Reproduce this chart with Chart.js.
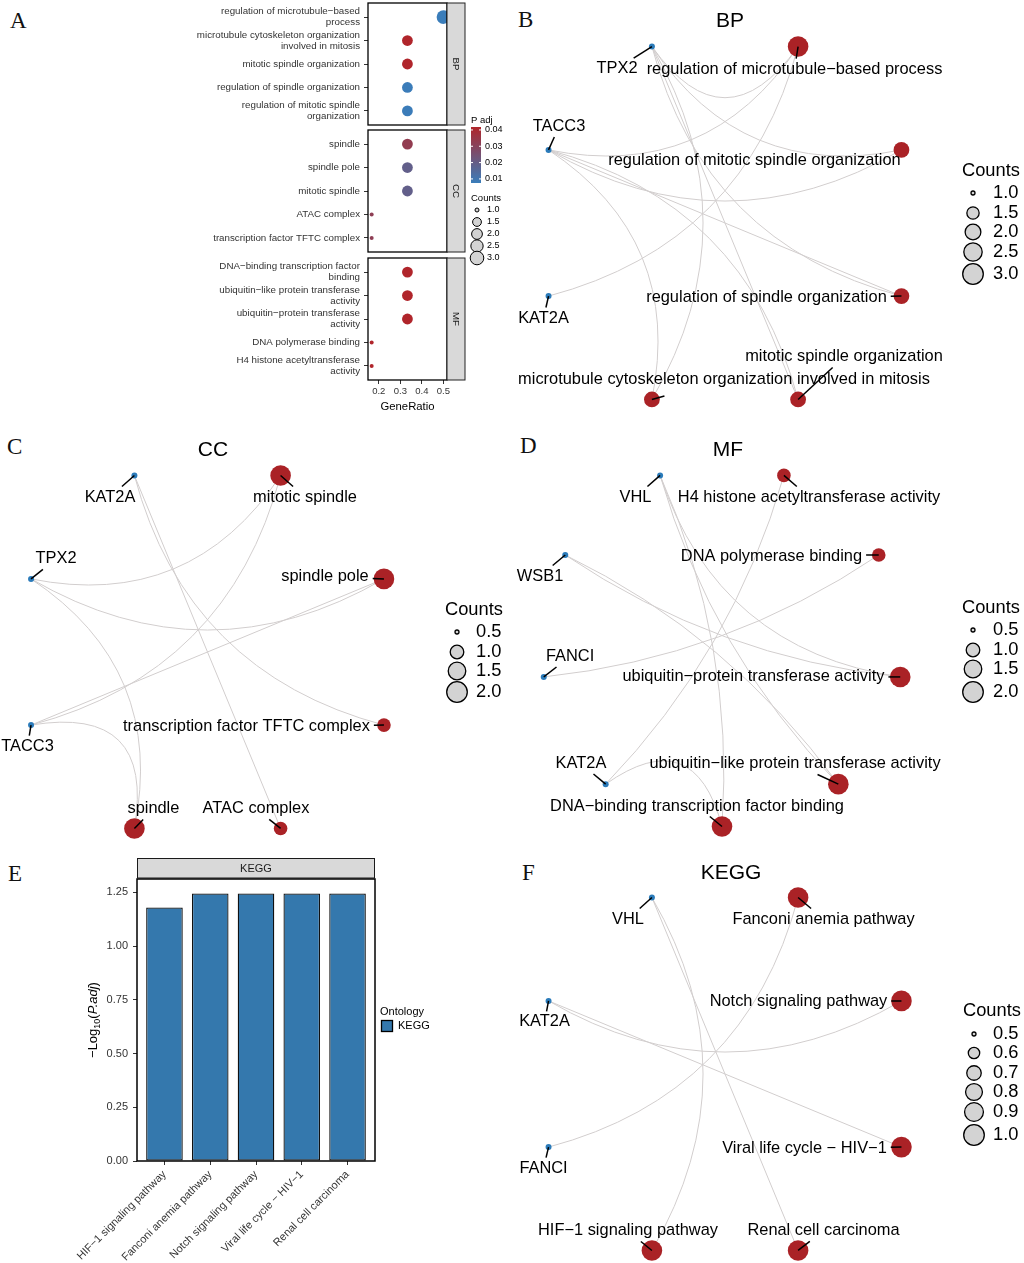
<!DOCTYPE html>
<html>
<head>
<meta charset="utf-8">
<title>Enrichment analysis figure</title>
<script src="https://cdn.jsdelivr.net/npm/chart.js@4.4.1/dist/chart.umd.min.js"></script>
<style>
  html, body { margin:0; padding:0; background:#ffffff; }
  #root { position:relative; width:1024px; height:1263px; overflow:hidden; background:#ffffff; }
  #root canvas { position:absolute; }
  .letter { position:absolute; font-family:"Liberation Serif","DejaVu Serif","Times New Roman",serif; font-size:23px; line-height:23px; color:#111; }
</style>
</head>
<body>
<div id="root">
  <div class="letter" style="left:10px;top:9px">A</div>
  <div class="letter" style="left:518px;top:8px">B</div>
  <div class="letter" style="left:7px;top:435px">C</div>
  <div class="letter" style="left:520px;top:434px">D</div>
  <div class="letter" style="left:8px;top:862px">E</div>
  <div class="letter" style="left:522px;top:861px">F</div>
</div>
<script>
// ======================= DATA =======================
// ---- Panel A (dot plot, faceted by ontology)
const BP_TERMS = [["regulation of microtubule−based","process"],["microtubule cytoskeleton organization","involved in mitosis"],"mitotic spindle organization","regulation of spindle organization",["regulation of mitotic spindle","organization"]];
const BP_RATIO = [0.500,0.333,0.333,0.333,0.333];
const BP_COUNT = [3,2,2,2,2];
const BP_PADJ  = [0.0075,0.0418,0.0418,0.0078,0.0078];

const CC_TERMS = ["spindle","spindle pole","mitotic spindle","ATAC complex","transcription factor TFTC complex"];
const CC_RATIO = [0.333,0.333,0.333,0.167,0.167];
const CC_COUNT = [2,2,2,1,1];
const CC_PADJ  = [0.033,0.019,0.019,0.032,0.032];

const MF_TERMS = [["DNA−binding transcription factor","binding"],["ubiquitin−like protein transferase","activity"],["ubiquitin−protein transferase","activity"],"DNA polymerase binding",["H4 histone acetyltransferase","activity"]];
const MF_RATIO = [0.333,0.333,0.333,0.167,0.167];
const MF_COUNT = [2,2,2,1,1];
const MF_PADJ  = [0.0418,0.0418,0.0418,0.0418,0.0418];

const GENERATIO_TICKS = [0.2,0.3,0.4,0.5];
const PADJ_LIMITS = [0.0075,0.0418];
const PADJ_BREAKS = [0.04,0.03,0.02,0.01];
const A_COUNT_BREAKS = [1.0,1.5,2.0,2.5,3.0];

// ---- Panel B (BP network) : nodes in circular order
const B_CIRCLE = ["regulation of microtubule−based process","regulation of mitotic spindle organization","regulation of spindle organization","mitotic spindle organization","microtubule cytoskeleton organization involved in mitosis","KAT2A","TACC3","TPX2"];
const B_TERMS  = ["regulation of microtubule−based process","regulation of mitotic spindle organization","regulation of spindle organization","mitotic spindle organization","microtubule cytoskeleton organization involved in mitosis"];
const B_COUNTS = [3,2,2,2,2];
const B_GENES  = ["KAT2A","TACC3","TPX2"];
const B_LINKS  = [["TPX2","TACC3","KAT2A"],["TPX2","TACC3"],["TPX2","TACC3"],["TPX2","TACC3"],["TPX2","TACC3"]];
const B_COUNT_BREAKS = [1.0,1.5,2.0,2.5,3.0];

// ---- Panel C (CC network)
const C_CIRCLE = ["mitotic spindle","spindle pole","transcription factor TFTC complex","ATAC complex","spindle","TACC3","TPX2","KAT2A"];
const C_TERMS  = ["mitotic spindle","spindle pole","transcription factor TFTC complex","ATAC complex","spindle"];
const C_COUNTS = [2,2,1,1,2];
const C_GENES  = ["TACC3","TPX2","KAT2A"];
const C_LINKS  = [["TPX2","TACC3"],["TPX2","TACC3"],["KAT2A"],["KAT2A"],["TPX2","TACC3"]];
const C_COUNT_BREAKS = [0.5,1.0,1.5,2.0];

// ---- Panel D (MF network)
const D_CIRCLE = ["H4 histone acetyltransferase activity","DNA polymerase binding","ubiquitin−protein transferase activity","ubiquitin−like protein transferase activity","DNA−binding transcription factor binding","KAT2A","FANCI","WSB1","VHL"];
const D_TERMS  = ["H4 histone acetyltransferase activity","DNA polymerase binding","ubiquitin−protein transferase activity","ubiquitin−like protein transferase activity","DNA−binding transcription factor binding"];
const D_COUNTS = [1,1,2,2,2];
const D_GENES  = ["KAT2A","FANCI","WSB1","VHL"];
const D_LINKS  = [["KAT2A"],["FANCI"],["VHL","WSB1"],["VHL","WSB1"],["VHL","KAT2A"]];
const D_COUNT_BREAKS = [0.5,1.0,1.5,2.0];

// ---- Panel E (KEGG bar chart)
const KEGG_PATHWAYS = ["HIF−1 signaling pathway","Fanconi anemia pathway","Notch signaling pathway","Viral life cycle − HIV−1","Renal cell carcinoma"];
const KEGG_NEGLOG10_PADJ = [1.18,1.245,1.245,1.245,1.245];
const E_Y_TICKS = [0,0.25,0.5,0.75,1.0,1.25];

// ---- Panel F (KEGG network)
const F_CIRCLE = ["Fanconi anemia pathway","Notch signaling pathway","Viral life cycle − HIV−1","Renal cell carcinoma","HIF−1 signaling pathway","FANCI","KAT2A","VHL"];
const F_TERMS  = ["Fanconi anemia pathway","Notch signaling pathway","Viral life cycle − HIV−1","Renal cell carcinoma","HIF−1 signaling pathway"];
const F_COUNTS = [1,1,1,1,1];
const F_GENES  = ["FANCI","KAT2A","VHL"];
const F_LINKS  = [["FANCI"],["KAT2A"],["KAT2A"],["VHL"],["VHL"]];
const F_COUNT_BREAKS = [0.5,0.6,0.7,0.8,0.9,1.0];

// ======================= STYLE =======================
const SANS = '"Liberation Sans", Arial, Helvetica, sans-serif';
const LOW_RGB = [58,125,186], HIGH_RGB = [176,37,43];
const TERM_COLOR = '#AA2226', GENE_COLOR = '#2B7BBA';
const EDGE_COLOR = '#D2CECE';
const BAR_COLOR = '#3478AD';
const EDGE_BEND_SEP = [0,45,90,135,180];
const EDGE_BEND_F   = [1,0.656,0.47,0.115,0];

Chart.defaults.font.family = SANS;
Chart.defaults.color = '#000';
Chart.defaults.animation = false;
Chart.defaults.events = [];
Chart.defaults.plugins.legend.display = false;
Chart.defaults.plugins.tooltip.enabled = false;

const root = document.getElementById('root');
function addCanvas(left, top, w, h) {
  const c = document.createElement('canvas');
  c.width = w; c.height = h;
  c.style.left = left + 'px'; c.style.top = top + 'px';
  c.style.width = w + 'px'; c.style.height = h + 'px';
  root.appendChild(c);
  return c;
}
function sqrtSize(vmin, vmax, rmin, rmax) {
  return v => rmin + (rmax - rmin) * Math.sqrt(Math.max(0, Math.min(1, (v - vmin) / (vmax - vmin))));
}
function padjColor(p) {
  const t = Math.max(0, Math.min(1, (p - PADJ_LIMITS[0]) / (PADJ_LIMITS[1] - PADJ_LIMITS[0])));
  const c = LOW_RGB.map((l, i) => Math.round(l + (HIGH_RGB[i] - l) * t));
  return `rgb(${c[0]},${c[1]},${c[2]})`;
}
const sizeA = sqrtSize(1, 3, 2, 6.8);
function noPad(s) { s.paddingTop = 0; s.paddingBottom = 0; s.paddingLeft = 0; s.paddingRight = 0; }

// ======================= PANEL A =======================
function facetPlugin(name) {
  return {
    id: 'facet' + name,
    afterDraw(chart) {
      const {ctx, chartArea: ca} = chart;
      ctx.save();
      ctx.lineWidth = 1.3; ctx.strokeStyle = '#000';
      ctx.strokeRect(ca.left, ca.top, ca.right - ca.left, ca.bottom - ca.top);
      ctx.fillStyle = '#D9D9D9';
      ctx.fillRect(ca.right, ca.top, 18, ca.bottom - ca.top);
      ctx.lineWidth = 1; ctx.strokeStyle = '#222';
      ctx.strokeRect(ca.right, ca.top, 18, ca.bottom - ca.top);
      ctx.translate(ca.right + 9, (ca.top + ca.bottom) / 2);
      ctx.rotate(Math.PI / 2);
      ctx.fillStyle = '#1A1A1A'; ctx.font = `9.75px ${SANS}`;
      ctx.textAlign = 'center'; ctx.textBaseline = 'middle';
      ctx.fillText(name, 0, 0);
      ctx.restore();
    }
  };
}
const aLegendPlugin = {
  id: 'aLegend',
  afterDraw(chart) {
    const ctx = chart.ctx;
    ctx.save();
    ctx.fillStyle = '#000'; ctx.textAlign = 'left'; ctx.textBaseline = 'middle';
    ctx.font = `9.5px ${SANS}`;
    ctx.fillText('P adj', 471, 120);
    const bx = 471, by = 127, bw = 10, bh = 56;
    const g = ctx.createLinearGradient(0, by, 0, by + bh);
    for (let i = 0; i <= 10; i++) {
      const p = PADJ_LIMITS[1] - (PADJ_LIMITS[1] - PADJ_LIMITS[0]) * i / 10;
      g.addColorStop(i / 10, padjColor(p));
    }
    ctx.fillStyle = g; ctx.fillRect(bx, by, bw, bh);
    PADJ_BREAKS.forEach(v => {
      const y = by + (PADJ_LIMITS[1] - v) / (PADJ_LIMITS[1] - PADJ_LIMITS[0]) * bh;
      ctx.strokeStyle = '#fff'; ctx.lineWidth = 1;
      ctx.beginPath(); ctx.moveTo(bx, y); ctx.lineTo(bx + 2, y); ctx.moveTo(bx + bw - 2, y); ctx.lineTo(bx + bw, y); ctx.stroke();
      ctx.fillStyle = '#000'; ctx.font = `9px ${SANS}`;
      ctx.fillText(v.toFixed(2), 485, y);
    });
    ctx.font = `9.5px ${SANS}`;
    ctx.fillText('Counts', 471, 198);
    const ys = [210, 222, 234, 246, 258];
    A_COUNT_BREAKS.forEach((v, i) => {
      ctx.beginPath(); ctx.arc(477, ys[i], sizeA(v), 0, Math.PI * 2);
      ctx.fillStyle = '#D3D3D3'; ctx.fill();
      ctx.lineWidth = 1; ctx.strokeStyle = '#000'; ctx.stroke();
      ctx.fillStyle = '#000'; ctx.font = `9px ${SANS}`;
      ctx.fillText(v.toFixed(1), 487, ys[i]);
    });
    ctx.restore();
  }
};
function facet(name, terms, ratio, count, padj, top, bottom, showX, extraPlugins) {
  const cv = addCanvas(0, 0, 520, 425);
  new Chart(cv, {
    type: 'scatter',
    data: { datasets: [{
      data: ratio.map((r, i) => ({x: r, y: i})),
      pointRadius: count.map(sizeA),
      pointHoverRadius: count.map(sizeA),
      pointBackgroundColor: padj.map(padjColor),
      pointBorderWidth: 0,
      showLine: false,
      clip: 0
    }]},
    options: {
      responsive: false, animation: false,
      layout: { autoPadding: false, padding: { left: 0, right: 73, top: top, bottom: showX ? 425 - bottom - 40 : 425 - bottom } },
      scales: {
        x: {
          type: 'linear', min: 0.15, max: 0.5167, display: showX,
          afterBuildTicks: s => { s.ticks = GENERATIO_TICKS.map(v => ({value: v})); },
          afterFit: s => { s.height = showX ? 40 : 0; noPad(s); },
          ticks: { callback: v => Number(v).toFixed(1), font: {size: 9.5}, color: '#333', padding: 2, maxRotation: 0, minRotation: 0, autoSkip: false },
          grid: { drawOnChartArea: false, drawTicks: true, tickLength: 4, color: '#333' },
          border: { display: false },
          title: { display: true, text: 'GeneRatio', font: {size: 11.3}, color: '#000', padding: {top: 2, bottom: 6} }
        },
        y: {
          type: 'linear', reverse: true, min: -0.6, max: 4.6,
          afterBuildTicks: s => { s.ticks = terms.map((t, i) => ({value: i})); },
          afterFit: s => { s.width = 368; noPad(s); },
          ticks: { callback: v => terms[v], font: {size: 9.75, lineHeight: 1.13}, color: '#333', padding: 4, autoSkip: false },
          grid: { drawOnChartArea: false, drawTicks: true, tickLength: 4, color: '#333' },
          border: { display: false }
        }
      }
    },
    plugins: [facetPlugin(name)].concat(extraPlugins || [])
  });
}
facet('BP', BP_TERMS, BP_RATIO, BP_COUNT, BP_PADJ, 3, 125, false);
facet('CC', CC_TERMS, CC_RATIO, CC_COUNT, CC_PADJ, 130, 252, false, [aLegendPlugin]);
facet('MF', MF_TERMS, MF_RATIO, MF_COUNT, MF_PADJ, 258, 380, true);

// ======================= PANEL E =======================
const ePlugin = {
  id: 'eDecor',
  afterDraw(chart) {
    const {ctx, chartArea: ca} = chart;
    ctx.save();
    ctx.fillStyle = '#D9D9D9';
    ctx.fillRect(ca.left, 8, ca.right - ca.left, 20);
    ctx.strokeStyle = '#1A1A1A'; ctx.lineWidth = 1;
    ctx.strokeRect(ca.left + 0.5, 8.5, ca.right - ca.left - 1, 19.5);
    ctx.fillStyle = '#1A1A1A'; ctx.font = `11px ${SANS}`;
    ctx.textAlign = 'center'; ctx.textBaseline = 'middle';
    ctx.fillText('KEGG', (ca.left + ca.right) / 2, 18.5);
    ctx.lineWidth = 1.5; ctx.strokeStyle = '#000';
    ctx.strokeRect(ca.left, ca.top, ca.right - ca.left, ca.bottom - ca.top);
    // y title with subscript and italics
    ctx.save();
    ctx.translate(93, 170); ctx.rotate(-Math.PI / 2);
    const parts = [
      {t: '−Log', f: `13px ${SANS}`, dy: 0},
      {t: '10', f: `9px ${SANS}`, dy: 3},
      {t: '(', f: `13px ${SANS}`, dy: 0},
      {t: 'P.adj', f: `italic 13px ${SANS}`, dy: 0},
      {t: ')', f: `13px ${SANS}`, dy: 0}
    ];
    let total = 0;
    parts.forEach(p => { ctx.font = p.f; p.w = ctx.measureText(p.t).width; total += p.w; });
    let x = -total / 2;
    ctx.textAlign = 'left'; ctx.textBaseline = 'alphabetic'; ctx.fillStyle = '#000';
    parts.forEach(p => { ctx.font = p.f; ctx.fillText(p.t, x, 4 + p.dy); x += p.w; });
    ctx.restore();
    // legend
    ctx.textAlign = 'left'; ctx.textBaseline = 'middle'; ctx.fillStyle = '#000';
    ctx.font = `11px ${SANS}`;
    ctx.fillText('Ontology', 380, 162);
    ctx.fillStyle = BAR_COLOR; ctx.fillRect(381.5, 170.5, 11, 11);
    ctx.lineWidth = 1.3; ctx.strokeStyle = '#000'; ctx.strokeRect(381.5, 170.5, 11, 11);
    ctx.fillStyle = '#000';
    ctx.fillText('KEGG', 398, 176);
    ctx.restore();
  }
};
(function () {
  const cv = addCanvas(0, 850, 520, 413);
  new Chart(cv, {
    type: 'bar',
    data: { datasets: [{
      data: KEGG_NEGLOG10_PADJ.map((v, i) => ({x: i, y: v})),
      backgroundColor: BAR_COLOR, borderColor: '#111', borderWidth: 1.3, borderSkipped: false,
      barPercentage: 0.8, categoryPercentage: 1.0
    }]},
    options: {
      responsive: false, animation: false,
      layout: { autoPadding: false, padding: { left: 0, right: 145, top: 29, bottom: 0 } },
      scales: {
        x: {
          type: 'linear', min: -0.6, max: 4.6, offset: false,
          afterBuildTicks: s => { s.ticks = KEGG_PATHWAYS.map((p, i) => ({value: i})); },
          afterFit: s => { s.height = 102; noPad(s); },
          ticks: { callback: v => KEGG_PATHWAYS[v], minRotation: 45, maxRotation: 45, font: {size: 11}, color: '#333', padding: 3, autoSkip: false },
          grid: { offset: false, drawOnChartArea: false, drawTicks: true, tickLength: 4, color: '#333' },
          border: { display: false }
        },
        y: {
          type: 'linear', min: 0, max: 1.3125,
          afterBuildTicks: s => { s.ticks = E_Y_TICKS.map(v => ({value: v})); },
          afterFit: s => { s.width = 137; noPad(s); },
          ticks: { callback: v => Number(v).toFixed(2), font: {size: 11}, color: '#333', padding: 5, autoSkip: false },
          grid: { drawOnChartArea: false, drawTicks: true, tickLength: 4, color: '#333' },
          border: { display: false }
        }
      }
    },
    plugins: [ePlugin]
  });
})();

// ======================= NETWORKS (B, C, D, F) =======================
function bend(sep) {
  for (let i = 1; i < EDGE_BEND_SEP.length; i++) {
    if (sep <= EDGE_BEND_SEP[i]) {
      const t = (sep - EDGE_BEND_SEP[i - 1]) / (EDGE_BEND_SEP[i] - EDGE_BEND_SEP[i - 1]);
      return EDGE_BEND_F[i - 1] + t * (EDGE_BEND_F[i] - EDGE_BEND_F[i - 1]);
    }
  }
  return 0;
}
function network(d, st) {
  const cv = addCanvas(st.left, st.top, st.w, st.h);
  const n = d.circle.length;
  const layout = d.circle.map((name, k) => {
    const a = (90 - 360 * (k + 0.5) / n) * Math.PI / 180;
    return {name, x: Math.cos(a), y: Math.sin(a)};
  });
  const at = name => layout[d.circle.indexOf(name)];
  const sizeFn = sqrtSize(st.vmin, st.vmax, 2, 10.3);
  const cx = st.cx - st.left, cy = st.cy - st.top, R = st.R;
  const plugin = {
    id: 'net' + st.title,
    beforeDatasetsDraw(chart) {
      const {ctx} = chart; const xs = chart.scales.x, ys = chart.scales.y;
      const P = name => { const p = at(name); return [xs.getPixelForValue(p.x), ys.getPixelForValue(p.y)]; };
      const c0x = xs.getPixelForValue(0), c0y = ys.getPixelForValue(0);
      const Rpx = xs.getPixelForValue(1) - c0x;
      ctx.save();
      ctx.strokeStyle = EDGE_COLOR; ctx.lineWidth = 1;
      d.terms.forEach((t, i) => d.links[i].forEach(g => {
        const [ax, ay] = P(g), [bx, by] = P(t);
        const ux = ax - c0x, uy = ay - c0y, vx = bx - c0x, vy = by - c0y;
        const cosS = (ux * vx + uy * vy) / (Math.hypot(ux, uy) * Math.hypot(vx, vy));
        const sep = Math.acos(Math.max(-1, Math.min(1, cosS))) * 180 / Math.PI;
        const mx = (ux + vx) / 2, my = (uy + vy) / 2, ml = Math.hypot(mx, my);
        ctx.beginPath(); ctx.moveTo(ax, ay);
        if (ml < 1) { ctx.lineTo(bx, by); }
        else {
          const pk = bend(sep) * Rpx;
          const px = mx / ml * pk, py = my / ml * pk;
          ctx.quadraticCurveTo(c0x + 2 * px - mx, c0y + 2 * py - my, bx, by);
        }
        ctx.stroke();
      }));
      ctx.restore();
    },
    afterDatasetsDraw(chart) {
      const {ctx} = chart; const xs = chart.scales.x, ys = chart.scales.y;
      const P = name => { const p = at(name); return [xs.getPixelForValue(p.x), ys.getPixelForValue(p.y)]; };
      ctx.save();
      ctx.font = `16.4px ${SANS}`; ctx.textAlign = 'center'; ctx.textBaseline = 'middle';
      d.circle.forEach((name, k) => {
        const [nx, ny] = P(name);
        const [dx, dy] = st.labelOffsets[k];
        const lx = nx + dx, ly = ny + dy;
        const w = ctx.measureText(name).width;
        const hw = w / 2 + 4, hh = 6.5 + 4;
        const ddx = nx - lx, ddy = ny - ly;
        const tx = ddx === 0 ? Infinity : hw / Math.abs(ddx);
        const ty = ddy === 0 ? Infinity : hh / Math.abs(ddy);
        let t = Math.min(tx, ty);
        const full = Math.hypot(ddx, ddy);
        if (st.maxLeader && (1 - t) * full > st.maxLeader[k]) t = 1 - st.maxLeader[k] / full;
        if (t < 1 && (1 - t) * full > 4) {
          ctx.beginPath(); ctx.moveTo(lx + t * ddx, ly + t * ddy); ctx.lineTo(nx, ny);
          ctx.lineWidth = 1.5; ctx.strokeStyle = '#000'; ctx.stroke();
        }
        ctx.fillStyle = '#000';
        ctx.fillText(name, lx, ly);
      });
      // title
      ctx.font = `21px ${SANS}`;
      ctx.fillText(st.title, st.titleXY[0] - st.left, st.titleXY[1] - st.top);
      // size legend
      const L = st.legend;
      ctx.textAlign = 'left';
      ctx.font = `18.3px ${SANS}`;
      ctx.fillText('Counts', L.titleX - st.left, L.titleY - st.top);
      d.breaks.forEach((v, i) => {
        const y = L.ys[i] - st.top;
        ctx.beginPath(); ctx.arc(L.circleX - st.left, y, sizeFn(v), 0, Math.PI * 2);
        ctx.fillStyle = '#D3D3D3'; ctx.fill();
        ctx.lineWidth = 1.3; ctx.strokeStyle = '#000'; ctx.stroke();
        ctx.fillStyle = '#000';
        ctx.fillText(v.toFixed(1), L.labelX - st.left, y);
      });
      ctx.restore();
    }
  };
  new Chart(cv, {
    type: 'bubble',
    data: { datasets: [
      { data: d.terms.map((t, i) => { const p = at(t); return {x: p.x, y: p.y, r: sizeFn(d.counts[i])}; }),
        backgroundColor: TERM_COLOR, borderWidth: 0, clip: false },
      { data: d.genes.map(g => { const p = at(g); return {x: p.x, y: p.y, r: 3}; }),
        backgroundColor: GENE_COLOR, borderWidth: 0, clip: false }
    ]},
    options: {
      responsive: false, animation: false,
      layout: { autoPadding: false, padding: 0 },
      scales: {
        x: { type: 'linear', display: false, min: -cx / R, max: (st.w - cx) / R },
        y: { type: 'linear', display: false, min: -(st.h - cy) / R, max: cy / R }
      }
    },
    plugins: [plugin]
  });
}

network(
  {circle: B_CIRCLE, terms: B_TERMS, counts: B_COUNTS, genes: B_GENES, links: B_LINKS, breaks: B_COUNT_BREAKS},
  {left: 510, top: 0, w: 514, h: 425, cx: 725, cy: 223, R: 191, vmin: 1, vmax: 3, title: 'BP', titleXY: [730, 21],
   labelOffsets: [[-3.6,22.5],[-147,10.1],[-135,0.9],[45.9,-42.5],[72.1,-19.5],[-5,21.9],[10.5,-23.4],[-34.9,22]],
   maxLeader: [99,99,99,99,13,99,99,99],
   legend: {titleX: 962, titleY: 171, circleX: 973, labelX: 993, ys: [193,213,232,252,274]}}
);
network(
  {circle: C_CIRCLE, terms: C_TERMS, counts: C_COUNTS, genes: C_GENES, links: C_LINKS, breaks: C_COUNT_BREAKS},
  {left: 0, top: 425, w: 510, h: 425, cx: 207.5, cy: 652, R: 191, vmin: 0.5, vmax: 2, title: 'CC', titleXY: [213, 450],
   labelOffsets: [[24.4,21.5],[-59,-2],[-137.5,1],[-24.6,-19.5],[19,-19.5],[-3.5,21],[25,-20],[-24.4,21.5]],
   legend: {titleX: 445, titleY: 610, circleX: 457, labelX: 476, ys: [632,652,671,692]}}
);
network(
  {circle: D_CIRCLE, terms: D_TERMS, counts: D_COUNTS, genes: D_GENES, links: D_LINKS, breaks: D_COUNT_BREAKS},
  {left: 510, top: 425, w: 514, h: 425, cx: 722, cy: 645.5, R: 181, vmin: 0.5, vmax: 2, title: 'MF', titleXY: [728, 450],
   labelOffsets: [[25.1,21.6],[-107.3,1],[-146.8,0],[-43.3,-20.2],[-25,-20.5],[-24.7,-20.7],[26.3,-20.4],[-25.2,21],[-24.6,21.6]],
   legend: {titleX: 962, titleY: 608, circleX: 973, labelX: 993, ys: [630,650,669,692]}}
);
network(
  {circle: F_CIRCLE, terms: F_TERMS, counts: F_COUNTS, genes: F_GENES, links: F_LINKS, breaks: F_COUNT_BREAKS},
  {left: 510, top: 850, w: 514, h: 413, cx: 725, cy: 1074, R: 191, vmin: 0.5, vmax: 1, title: 'KEGG', titleXY: [731, 873],
   labelOffsets: [[25.4,21.5],[-103,1],[-97,1],[25.4,-19.5],[-23.9,-19.5],[-5,21],[-4,21],[-23.9,21.5]],
   legend: {titleX: 963, titleY: 1011, circleX: 974, labelX: 993, ys: [1034,1053,1073,1092,1112,1135]}}
);
</script>
</body>
</html>
